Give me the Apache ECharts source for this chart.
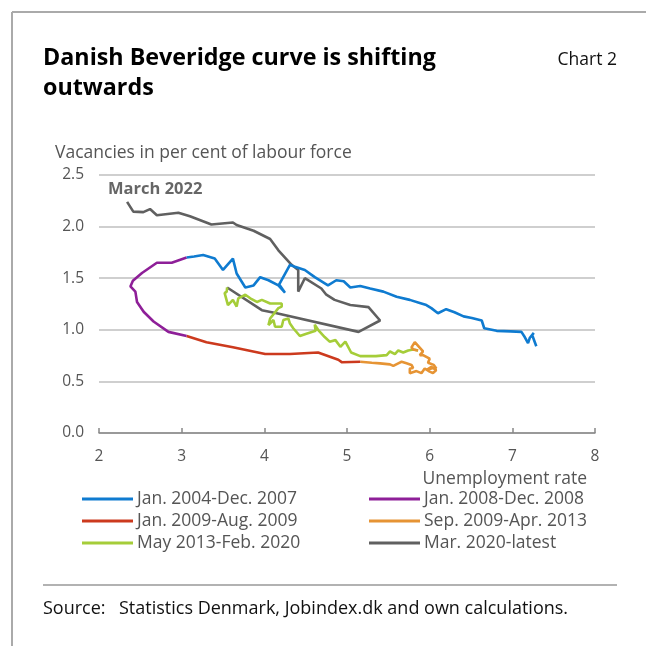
<!DOCTYPE html>
<html><head><meta charset="utf-8">
<script src="https://cdn.jsdelivr.net/npm/echarts@6/dist/echarts.min.js"></script>
<style>html,body{margin:0;padding:0;background:#fff}#c{width:646px;height:646px}</style>
</head><body><div id="c"></div>
<script>
const seriesNames = ["Jan. 2004-Dec. 2007","Jan. 2008-Dec. 2008","Jan. 2009-Aug. 2009","Sep. 2009-Apr. 2013","May 2013-Feb. 2020","Mar. 2020-latest"];
const xTicks = [2,3,4,5,6,7,8];
const yTicks = [0.0,0.5,1.0,1.5,2.0,2.5];
const blue = [[7.29,0.84],[7.24,0.95],[7.26,0.97],[7.21,0.92],[7.19,0.87],[7.17,0.86],[7.15,0.93],[7.11,0.98],[6.98,0.985],[6.81,0.99],[6.66,1.015],[6.63,1.09],[6.51,1.115],[6.41,1.13],[6.30,1.17],[6.20,1.20],[6.10,1.16],[6.02,1.21],[5.96,1.24],[5.88,1.26],[5.76,1.29],[5.60,1.32],[5.44,1.37],[5.28,1.40],[5.16,1.425],[5.04,1.41],[4.96,1.47],[4.87,1.48],[4.77,1.43],[4.61,1.51],[4.49,1.58],[4.37,1.61],[4.31,1.63],[4.18,1.44],[4.25,1.36],[4.17,1.43],[4.05,1.48],[3.95,1.51],[3.87,1.43],[3.77,1.41],[3.665,1.545],[3.62,1.69],[3.50,1.58],[3.40,1.69],[3.26,1.725],[3.15,1.71],[3.06,1.70]];
const purple = [[3.06,1.70],[2.88,1.65],[2.70,1.65],[2.52,1.55],[2.41,1.475],[2.38,1.42],[2.44,1.37],[2.46,1.27],[2.54,1.175],[2.66,1.08],[2.84,0.98],[3.06,0.94]];
const red = [[3.06,0.94],[3.30,0.88],[3.62,0.83],[4.01,0.765],[4.31,0.765],[4.65,0.78],[4.895,0.71],[4.94,0.685],[5.16,0.69]];
const orange = [[5.16,0.69],[5.30,0.68],[5.40,0.675],[5.52,0.665],[5.56,0.65],[5.62,0.675],[5.66,0.69],[5.72,0.675],[5.78,0.66],[5.80,0.63],[5.76,0.625],[5.76,0.58],[5.84,0.60],[5.90,0.58],[5.94,0.625],[6.00,0.595],[6.04,0.58],[6.08,0.61],[6.02,0.64],[5.96,0.61],[6.04,0.63],[6.08,0.625],[6.05,0.66],[5.98,0.68],[6.00,0.72],[5.92,0.755],[5.88,0.755],[5.92,0.79],[5.82,0.88],[5.78,0.83],[5.80,0.81],[5.86,0.80]];
const green = [[5.86,0.80],[5.80,0.81],[5.74,0.80],[5.68,0.78],[5.62,0.80],[5.58,0.765],[5.52,0.79],[5.48,0.755],[5.35,0.745],[5.16,0.745],[5.05,0.78],[4.98,0.885],[4.92,0.835],[4.86,0.90],[4.79,0.885],[4.73,0.93],[4.65,1.0],[4.61,1.05],[4.62,0.99],[4.50,0.96],[4.43,0.94],[4.35,1.015],[4.31,1.06],[4.29,1.11],[4.23,1.095],[4.21,1.03],[4.13,1.03],[4.11,1.095],[4.05,1.045],[4.03,1.06],[4.07,1.11],[4.17,1.21],[4.21,1.225],[4.21,1.255],[4.15,1.255],[4.07,1.255],[3.97,1.29],[3.91,1.27],[3.83,1.305],[3.77,1.34],[3.685,1.305],[3.665,1.225],[3.62,1.29],[3.56,1.24],[3.52,1.355],[3.545,1.37],[3.55,1.41]];
const gray = [[3.55,1.41],[3.97,1.19],[4.15,1.16],[5.14,0.98],[5.40,1.09],[5.26,1.22],[5.04,1.24],[4.85,1.29],[4.75,1.34],[4.69,1.40],[4.49,1.50],[4.41,1.37],[4.41,1.58],[4.33,1.63],[4.17,1.77],[4.07,1.88],[3.87,1.96],[3.665,2.015],[3.62,2.04],[3.36,2.02],[3.10,2.10],[2.96,2.135],[2.70,2.11],[2.617,2.17],[2.536,2.14],[2.415,2.145],[2.34,2.24]];
const colors = ["#0f7bd0","#8e1f98","#cc3a1e","#e69434","#a5cd39","#606060"];
const datasets = [blue,purple,red,orange,green,gray];
const FONT = "Open Sans";
const chart = echarts.init(document.getElementById('c'), null, {renderer:'canvas'});
const mk = (i) => ({
  type:'line', name: seriesNames[i], data: datasets[i], symbol:'none', showSymbol:false,
  lineStyle:{color:colors[i], width:2.6}, itemStyle:{color:colors[i]}, z: 10 - i, animation:false
});
const legendCommon = {
  orient:'vertical', icon:'rect', itemWidth:51, itemHeight:3, itemGap:4, padding:0,
  textStyle:{fontFamily:FONT, fontSize:17.5, color:'#555', lineHeight:17, padding:[0,0,0,-1]}, selectedMode:false
};
chart.setOption({
  animation:false,
  grid:{left:99, right:51, top:175, bottom:213, containLabel:false},
  xAxis:{type:'value', min:2, max:8, interval:1,
    axisLine:{show:true, lineStyle:{color:'#888', width:1.5}},
    axisTick:{show:true, inside:true, length:5, lineStyle:{color:'#888', width:1.5}},
    axisLabel:{fontFamily:FONT, fontSize:15.5, color:'#555', margin:16,
      formatter:(v)=> xTicks.includes(v) ? String(v) : ''},
    splitLine:{show:false},
    name:'Unemployment rate', nameLocation:'end', nameGap:0,
    nameTextStyle:{fontFamily:FONT, fontSize:17.5, color:'#555', align:'right', verticalAlign:'top', padding:[37,8,0,0]}
  },
  yAxis:{type:'value', min:0, max:2.5, interval:0.5,
    axisLine:{show:false}, axisTick:{show:false},
    axisLabel:{fontFamily:FONT, fontSize:15.5, color:'#555', margin:15,
      formatter:(v)=> yTicks.some(t=>Math.abs(t-v)<1e-9) ? v.toFixed(1) : ''},
    splitLine:{show:true, lineStyle:{color:'#cfcfcf', width:2}}
  },
  legend:[
    Object.assign({}, legendCommon, {left:82, top:490, data:[seriesNames[0],seriesNames[2],seriesNames[4]]}),
    Object.assign({}, legendCommon, {left:369, top:490, data:[seriesNames[1],seriesNames[3],seriesNames[5]]})
  ],
  graphic:[
    {type:'line', shape:{x1:12,y1:12,x2:646,y2:12}, style:{stroke:'#aaa', lineWidth:2}},
    {type:'line', shape:{x1:12,y1:12,x2:12,y2:646}, style:{stroke:'#aaa', lineWidth:2}},
    {type:'line', shape:{x1:43,y1:585,x2:617,y2:585}, style:{stroke:'#999', lineWidth:1.5}},
    {type:'text', left:43, top:43, style:{text:'Danish Beveridge curve is shifting\noutwards', font:'bold 23.3px "Open Sans"', fill:'#000', lineHeight:30}},
    {type:'text', right:29, top:51, style:{text:'Chart 2', font:'17.5px "Open Sans"', fill:'#111'}},
    {type:'text', left:55, top:144, style:{text:'Vacancies in per cent of labour force', font:'17.5px "Open Sans"', fill:'#555'}},
    {type:'text', left:108, top:181, style:{text:'March 2022', font:'bold 16.5px "Open Sans"', fill:'#666'}},
    {type:'text', left:43, top:600, style:{text:'Source:', font:'18px "Open Sans"', fill:'#111'}},
    {type:'text', left:119, top:600, style:{text:'Statistics Denmark, Jobindex.dk and own calculations.', font:'18px "Open Sans"', fill:'#111'}}
  ],
  series:[0,1,2,3,4,5].map(mk)
});
</script></body></html>
